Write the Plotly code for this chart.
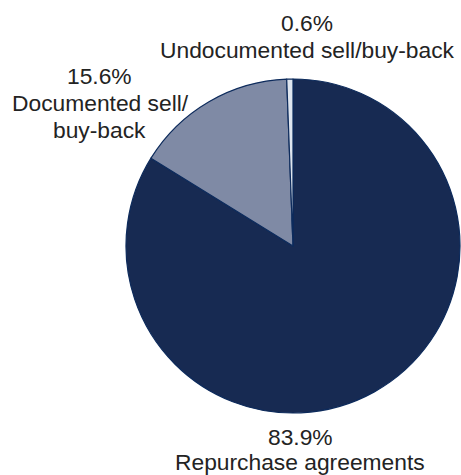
import plotly.graph_objects as go

W, H = 461, 475

# Share of transactions by type (%)
categories = ["Repurchase agreements", "Documented sell/buy-back", "Undocumented sell/buy-back"]
shares = [83.9, 15.6, 0.6]
colors = ["#172a52", "#7f8aa5", "#dfe5ee"]

fig = go.Figure(
    go.Pie(
        labels=categories,
        values=shares,
        sort=False,
        direction="clockwise",
        rotation=0,
        textinfo="none",
        hoverinfo="label+value",
        marker=dict(colors=colors, line=dict(color="#0d2b5c", width=1.2)),
        domain=dict(x=[126 / W, 460 / W], y=[(H - 414) / H, (H - 78) / H]),
        showlegend=False,
    )
)

font = dict(family="Liberation Sans, Arial, sans-serif", size=22.8, color="#232323")


def label(text, x, y):
    fig.add_annotation(
        text=text, x=x / W, y=1 - y / H, xref="paper", yref="paper",
        xanchor="center", yanchor="middle", showarrow=False, font=font,
    )


pct = {c: f"{v:.1f}%" for c, v in zip(categories, shares)}

label(pct["Undocumented sell/buy-back"], 307, 23)
label("Undocumented sell/buy-back", 307, 50)
label(pct["Documented sell/buy-back"], 99, 76)
label("Documented sell/", 100, 103)
label("buy-back", 99, 130)
label(pct["Repurchase agreements"], 300, 437)
label("Repurchase agreements", 300, 462)

fig.update_layout(
    width=W, height=H,
    margin=dict(l=0, r=0, t=0, b=0),
    paper_bgcolor="white", plot_bgcolor="white",
)

fig.write_html("out.html")
